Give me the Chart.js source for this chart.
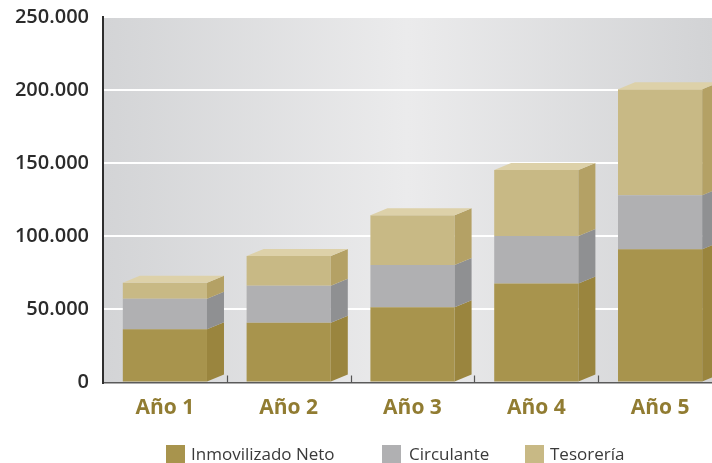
<!DOCTYPE html>
<html>
<head>
<meta charset="utf-8">
<script src="https://cdn.jsdelivr.net/npm/chart.js@4.4.1/dist/chart.umd.min.js"></script>
<style>
html,body{margin:0;padding:0;background:#fff;overflow:hidden;width:712px;height:463px;}
#wrap{position:absolute;left:0;top:0;width:722px;height:463px;}
#legend{position:absolute;left:0;top:0;width:712px;height:463px;pointer-events:none;font-family:"Open Sans",sans-serif;font-size:17px;color:#3a3a3a;}
.sw{position:absolute;width:19px;height:19px;}
.lt{position:absolute;line-height:19px;white-space:nowrap;}
</style>
</head>
<body>
<div id="wrap"><canvas id="c" width="722" height="463"></canvas></div>
<div id="legend"></div>
<script>
const categories = ["Año 1", "Año 2", "Año 3", "Año 4", "Año 5"];
const seriesNames = ["Inmovilizado Neto", "Circulante", "Tesorería"];
const inmovilizado = [36400, 40900, 51400, 67800, 91100];
const circulante   = [20900, 25300, 29000, 32400, 36900];
const tesoreria    = [11000, 20300, 34000, 45200, 72500];
const yTicks = [0, 50000, 100000, 150000, 200000, 250000];

const frontColors = ["#a8944d", "#b0b0b2", "#c8b985"];
const sideColors  = ["#9a853e", "#8f9092", "#b4a165"];
const topColor = "#ddd1a9";
const DX = 17, DY = 7;

function fmt(v){ return v === 0 ? "0" : (v/1000).toFixed(0) + ".000"; }

const bg3d = {
  id: 'bg3d',
  beforeDraw(chart){
    const {ctx, chartArea:a} = chart;
    const g = ctx.createLinearGradient(a.left, 0, 712, 0);
    g.addColorStop(0, "#d3d4d6");
    g.addColorStop(0.5, "#ebebec");
    g.addColorStop(1, "#d2d3d5");
    ctx.save();
    ctx.fillStyle = g;
    ctx.fillRect(a.left, a.top, a.right - a.left, a.bottom - a.top);
    ctx.restore();
  },
  afterDatasetsDraw(chart){
    const ctx = chart.ctx;
    const n = chart.data.datasets.length;
    ctx.save();
    for (let i = 0; i < categories.length; i++){
      for (let d = 0; d < n; d++){
        const el = chart.getDatasetMeta(d).data[i];
        const r = el.x + el.width/2;
        const top = Math.min(el.y, el.base), bot = Math.max(el.y, el.base);
        ctx.fillStyle = sideColors[d];
        ctx.beginPath();
        ctx.moveTo(r, bot);
        ctx.lineTo(r, top);
        ctx.lineTo(r + DX, top - DY);
        ctx.lineTo(r + DX, bot - DY);
        ctx.closePath();
        ctx.fill();
      }
      const el = chart.getDatasetMeta(n-1).data[i];
      const l = el.x - el.width/2, r = el.x + el.width/2, t = el.y;
      ctx.fillStyle = topColor;
      ctx.beginPath();
      ctx.moveTo(l, t);
      ctx.lineTo(l + DX, t - DY);
      ctx.lineTo(r + DX, t - DY);
      ctx.lineTo(r, t);
      ctx.closePath();
      ctx.fill();
    }
    // x-axis category ticks (pointing up)
    const xs = chart.scales.x, a = chart.chartArea;
    const half = (xs.getPixelForValue(1) - xs.getPixelForValue(0)) / 2;
    ctx.strokeStyle = "#555";
    ctx.lineWidth = 1.2;
    for (let i = 0; i < categories.length; i++){
      const x = Math.round(xs.getPixelForValue(i) + half) + 0.5;
      ctx.beginPath();
      ctx.moveTo(x, a.bottom);
      ctx.lineTo(x, a.bottom - 7);
      ctx.stroke();
    }
    ctx.restore();
  }
};

const chart = new Chart(document.getElementById('c'), {
  type: 'bar',
  data: {
    labels: categories,
    datasets: [
      {label: seriesNames[0], data: inmovilizado, backgroundColor: frontColors[0]},
      {label: seriesNames[1], data: circulante, backgroundColor: frontColors[1]},
      {label: seriesNames[2], data: tesoreria, backgroundColor: frontColors[2]}
    ]
  },
  options: {
    responsive: false,
    animation: false,
    devicePixelRatio: 1,
    layout: {padding: {top: 17, left: 0, right: 0, bottom: 0}},
    datasets: {bar: {barPercentage: 0.68, categoryPercentage: 1, borderWidth: 0}},
    plugins: {legend: {display: false}, tooltip: {enabled: false}},
    scales: {
      x: {
        stacked: true,
        grid: {display: false, drawTicks: false},
        border: {display: true, color: "#5a5a5a", width: 1.5},
        ticks: {
          padding: 13,
          color: "#917c32",
          font: {family: "'Open Sans', sans-serif", size: 21, weight: 'bold'}
        },
        afterFit(s){ s.height = 80.5; s.paddingLeft = 0; s.paddingRight = 0; }
      },
      y: {
        stacked: true,
        min: 0, max: 250000,
        afterBuildTicks(s){ s.ticks = yTicks.map(v => ({value: v})); },
        grid: {color: "#ffffff", lineWidth: 2, drawTicks: false},
        border: {display: true, color: "#2e2e2e", width: 2},
        ticks: {
          padding: 14,
          color: "#2b2b2b",
          font: {family: "'Open Sans', sans-serif", size: 20, weight: '600'},
          callback: (v) => fmt(v)
        },
        afterFit(s){ s.width = 103; s.paddingTop = 0; s.paddingBottom = 0; }
      }
    }
  },
  plugins: [bg3d]
});

// HTML legend
const legendPos = [
  {sx: 166, tx: 191},
  {sx: 382, tx: 409},
  {sx: 525, tx: 550}
];
const lg = document.getElementById('legend');
seriesNames.forEach((name, i) => {
  const sw = document.createElement('div');
  sw.className = 'sw';
  sw.style.left = legendPos[i].sx + 'px';
  sw.style.top = '445px';
  sw.style.background = frontColors[i];
  lg.appendChild(sw);
  const t = document.createElement('div');
  t.className = 'lt';
  t.style.left = legendPos[i].tx + 'px';
  t.style.top = '444px';
  t.textContent = name;
  lg.appendChild(t);
});
</script>
</body>
</html>
